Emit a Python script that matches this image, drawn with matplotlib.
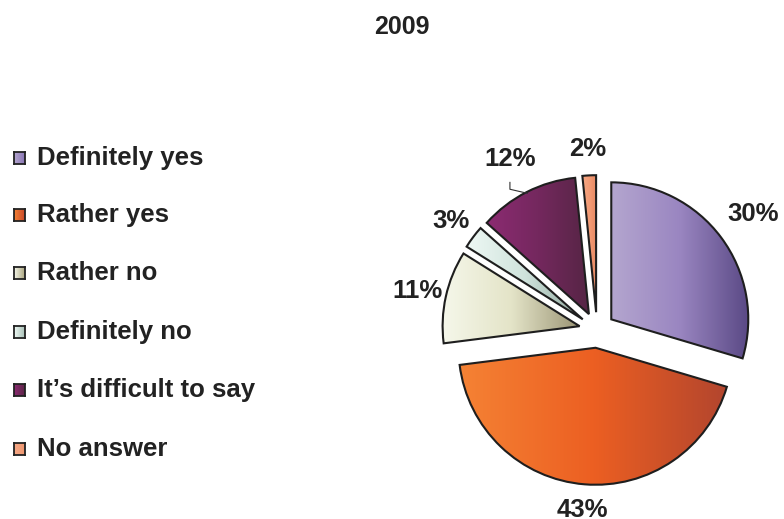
import numpy as np
import matplotlib
matplotlib.use("Agg")
import matplotlib.pyplot as plt
from matplotlib.colors import LinearSegmentedColormap
from matplotlib.patches import Rectangle

plt.rcParams['font.family'] = ['Liberation Sans', 'DejaVu Sans']

title = "2009"
categories = ["Definitely yes", "Rather yes", "Rather no", "Definitely no",
              "It\u2019s difficult to say", "No answer"]
values = [29.6, 43.4, 10.9, 2.7, 11.8, 1.6]
# gradient (left -> mid -> right) per slice
gradients = [
    ["#b4a6cf", "#9a86c1", "#5b4a86"],
    ["#f58234", "#ec5f22", "#b2452e"],
    ["#f5f7ea", "#e4e4c8", "#9a9474"],
    ["#eef8f4", "#cfe3dc", "#8fa69c"],
    ["#8c2b72", "#74285e", "#552544"],
    ["#f6a986", "#f39c76", "#e88a64"],
]
legend_grad = [
    ["#b4a6cf", "#8a76b4"],
    ["#f58234", "#c8482a"],
    ["#f5f7ea", "#aaa47e"],
    ["#eef8f4", "#a8c0b6"],
    ["#8c2b72", "#5c2648"],
    ["#f6a986", "#ee9670"],
]
label_dist = [1.42, 1.32, 1.34, 1.33, 1.40, 1.32]

W, H = 784, 519
cx, cy, R = 597, 330, 137
fig = plt.figure(figsize=(W / 100, H / 100), dpi=100)
ax = fig.add_axes([0, 0, 1, 1])
ax.set_axis_off()

explode = [0.13] * len(values)
wedges, _ = ax.pie(values, startangle=90, counterclock=False, explode=explode,
                   radius=1.0, center=(0, 0),
                   wedgeprops=dict(edgecolor="#1e1e1e", linewidth=1.5))

grad = np.linspace(0, 1, 256).reshape(1, -1)
for w, cols in zip(wedges, gradients):
    w.set_facecolor("none")
    w.set_zorder(3)
    ext = w.get_path().get_extents()
    cmap = LinearSegmentedColormap.from_list("g", cols)
    im = ax.imshow(grad, cmap=cmap, extent=[ext.x0, ext.x1, ext.y0, ext.y1],
                   aspect="auto", interpolation="bicubic", zorder=2)
    im.set_clip_path(w)

# percentage labels
for w, v, d in zip(wedges, values, label_dist):
    th = np.deg2rad((w.theta1 + w.theta2) / 2)
    ax.text(d * np.cos(th), d * np.sin(th), f"{v:.0f}%", ha="center", va="center",
            fontsize=18.5, fontweight="bold", color="#222222", zorder=5)

# leader line for the 'difficult' slice label
w = wedges[4]
th = np.deg2rad((w.theta1 + w.theta2) / 2)
lx, ly = label_dist[4] * np.cos(th), label_dist[4] * np.sin(th)
ex, ey = 1.12 * np.cos(th), 1.12 * np.sin(th)
ax.plot([lx, lx, ex], [ly - 0.17, ly - 0.22, ey], color="#333333",
        lw=0.8, zorder=4)

ax.set_xlim(-cx / R, (W - cx) / R)
ax.set_ylim(-(H - cy) / R, cy / R)
ax.set_aspect("auto")

fig.text(402 / W, 1 - 27 / H, title, ha="center", va="center", fontsize=18,
         fontweight="bold", color="#222222")

# legend
row_y = [158, 215, 273, 332, 390, 449]
for yy, lab, cols in zip(row_y, categories, legend_grad):
    x0, y0, sw, sh = 14 / W, 1 - (yy + 6) / H, 11 / W, 12 / H
    lax = fig.add_axes([x0, y0, sw, sh])
    lax.imshow(grad, cmap=LinearSegmentedColormap.from_list("lg", cols),
               aspect="auto", interpolation="bicubic")
    lax.set_xticks([])
    lax.set_yticks([])
    for s in lax.spines.values():
        s.set_linewidth(1.3)
        s.set_color("#222222")
    fig.text(37 / W, 1 - yy / H, lab, ha="left", va="center", fontsize=18.5,
             fontweight="bold", color="#222222")

fig.savefig("out.png", dpi=100)
